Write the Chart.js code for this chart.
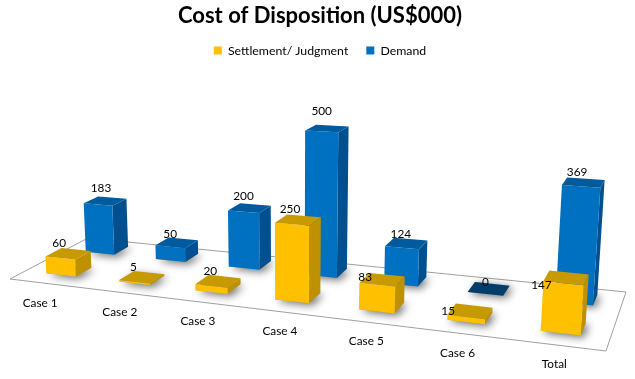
<!DOCTYPE html>
<html>
<head>
<meta charset="utf-8">
<script src="https://cdn.jsdelivr.net/npm/chart.js@4"></script>
<style>
    html, body { margin: 0; padding: 0; background: #fff; }
    canvas { display: block; }
</style>
</head>
<body>
<canvas id="chart-disposition" width="635" height="379"></canvas>
<script>
var categories = ['Case 1', 'Case 2', 'Case 3', 'Case 4', 'Case 5', 'Case 6', 'Total'];
var settlement = [60, 5, 20, 250, 83, 15, 147];
var demand = [183, 50, 200, 500, 124, 0, 369];

// floor of the 3D box: front left, front right, back right, back left
var floorCorners = [[10, 279], [606, 351], [626, 292], [88, 238]];

// solve the unit square -> floor quad once
var floorMap = (function () {
    var p = floorCorners;
    var dx1 = p[1][0] - p[2][0], dx2 = p[3][0] - p[2][0], sx = p[0][0] - p[1][0] + p[2][0] - p[3][0];
    var dy1 = p[1][1] - p[2][1], dy2 = p[3][1] - p[2][1], sy = p[0][1] - p[1][1] + p[2][1] - p[3][1];
    var det = dx1 * dy2 - dx2 * dy1;
    var g = (sx * dy2 - dx2 * sy) / det;
    var h = (dx1 * sy - sx * dy1) / det;
    return {
        a: p[1][0] - p[0][0] + g * p[1][0], b: p[3][0] - p[0][0] + h * p[3][0], c: p[0][0],
        d: p[1][1] - p[0][1] + g * p[1][1], e: p[3][1] - p[0][1] + h * p[3][1], f: p[0][1],
        g: g, h: h
    };
})();

// u along the front edge, v towards the back, height in pixels of the y scale
function project(u, v, height) {
    var m = floorMap;
    var w = m.g * u + m.h * v + 1;
    var x = (m.a * u + m.b * v + m.c) / w;
    var y = (m.d * u + m.e * v + m.f) / w;
    var hPx = height / w;
    // the bars sit a little further right mid chart than the pure perspective gives
    x += 24 * u * (1 - u);
    return { x: x + (x - 290) * hPx / 4800, y: y - hPx };
}

function poly(ctx, pts, fill) {
    ctx.beginPath();
    ctx.moveTo(pts[0].x, pts[0].y);
    for (var i = 1; i < pts.length; i++) {
        ctx.lineTo(pts[i].x, pts[i].y);
    }
    ctx.closePath();
    ctx.fillStyle = fill;
    ctx.fill();
}

var bars3d = {
    id: 'bars3d',
    afterDatasetsDraw: function (chart) {
        var ctx = chart.ctx;
        var area = chart.chartArea;
        var opts = chart.options.plugins.bars3d;

        function bar(datasetIndex) {
            var ds = chart.data.datasets[datasetIndex];
            var meta = chart.getDatasetMeta(datasetIndex);
            return meta.data.map(function (el, i) {
                return {
                    u0: (el.x - el.width / 2 - area.left) / area.width,
                    u1: (el.x + el.width / 2 - area.left) / area.width,
                    v0: ds.depthFrom,
                    v1: ds.depthFrom + opts.barDepth,
                    h: el.base - el.y,
                    value: ds.data[i],
                    ds: ds,
                    i: i
                };
            });
        }

        var back = bar(1), front = bar(0);
        var all = back.concat(front);

        ctx.save();

        // floor
        ctx.beginPath();
        ctx.moveTo(floorCorners[0][0], floorCorners[0][1]);
        for (var c = 1; c < 4; c++) {
            ctx.lineTo(floorCorners[c][0], floorCorners[c][1]);
        }
        ctx.closePath();
        ctx.strokeStyle = '#a0a0a0';
        ctx.lineWidth = 1;
        ctx.stroke();

        // soft shadows on the floor
        all.forEach(function (b) {
            ctx.save();
            ctx.shadowColor = 'rgba(0,0,0,0.6)';
            ctx.shadowBlur = 9;
            ctx.shadowOffsetX = 3;
            ctx.shadowOffsetY = 2;
            poly(ctx, [project(b.u0, b.v0, 0), project(b.u1, b.v0, 0), project(b.u1, b.v1, 0), project(b.u0, b.v1, 0)], '#999');
            ctx.restore();
        });

        all.forEach(function (b) {
            var topColor = b.value === 0 ? b.ds.zeroColor : b.ds.topColor;
            // side face
            poly(ctx, [project(b.u1, b.v0, 0), project(b.u1, b.v1, 0), project(b.u1, b.v1, b.h), project(b.u1, b.v0, b.h)], b.ds.sideColor);
            // front face
            poly(ctx, [project(b.u0, b.v0, 0), project(b.u1, b.v0, 0), project(b.u1, b.v0, b.h), project(b.u0, b.v0, b.h)], b.ds.frontColor);
            // top face
            poly(ctx, [project(b.u0, b.v0, b.h), project(b.u1, b.v0, b.h), project(b.u1, b.v1, b.h), project(b.u0, b.v1, b.h)], topColor);
        });

        // value labels
        ctx.fillStyle = '#000';
        ctx.font = opts.font;
        ctx.textAlign = 'center';
        ctx.textBaseline = 'middle';
        all.forEach(function (b) {
            var p = project((b.u0 + b.u1) / 2, b.v0, b.h);
            var q = project((b.u0 + b.u1) / 2, b.v1, b.h);
            var nudge = b.ds.labelNudge[b.i];
            ctx.fillText(String(b.value), p.x + nudge[0], q.y - 9 + nudge[1]);
        });

        // category labels along the front edge
        chart.data.labels.forEach(function (label, i) {
            var x = chart.scales.x.getPixelForValue(i);
            var p = project((x - area.left) / area.width, 0, 0);
            ctx.fillText(label, p.x + (i === 0 ? -6 : -1), p.y + 20);
        });

        ctx.restore();
    }
};

var ctx_disposition = document.getElementById('chart-disposition');

var chartDisposition = new Chart(ctx_disposition, {
    type: 'bar',
    data: {
        labels: categories,
        datasets: [
            {
                label: 'Settlement/ Judgment',
                data: settlement,
                backgroundColor: 'rgba(0,0,0,0)',
                frontColor: '#ffc000',
                topColor: '#c79a00',
                sideColor: '#bf9000',
                zeroColor: '#7f6000',
                depthFrom: 0.18,
                labelNudge: [[-1, 3], [-1, 4], [-1, 4], [-2, 2], [-12, 11], [-18, 15], [-22, 22]]
            },
            {
                label: 'Demand',
                data: demand,
                backgroundColor: 'rgba(0,0,0,0)',
                frontColor: '#0070c0',
                topColor: '#005a9e',
                sideColor: '#00508f',
                zeroColor: '#003d6b',
                depthFrom: 0.69,
                labelNudge: [[3, 0], [0, 4], [0, 1], [0, -5], [-1, 4], [0, 7], [-4, 2]]
            }
        ]
    },
    options: {
        responsive: false,
        animation: false,
        layout: { padding: { left: 5 } },
        datasets: {
            bar: { grouped: false, barPercentage: 1, categoryPercentage: 0.41 }
        },
        scales: {
            x: { display: false },
            y: { display: false, min: 0, max: 1100 }
        },
        plugins: {
            title: {
                display: true,
                text: 'Cost of Disposition (US$000)',
                color: '#000',
                font: { family: 'Lato', size: 22, weight: 'bold' },
                padding: { top: 3, bottom: -3 }
            },
            legend: {
                display: true,
                position: 'top',
                labels: {
                    color: '#000',
                    font: { family: 'Lato', size: 12.3 },
                    boxWidth: 8,
                    boxHeight: 8,
                    padding: 18,
                    generateLabels: function (chart) {
                        return chart.data.datasets.map(function (ds, i) {
                            return {
                                text: ds.label,
                                fillStyle: ds.frontColor,
                                strokeStyle: ds.frontColor,
                                lineWidth: 0,
                                fontColor: '#000',
                                datasetIndex: i
                            };
                        });
                    }
                }
            },
            tooltip: { enabled: false },
            bars3d: { barDepth: 0.2, font: '11.8px Lato' }
        }
    },
    plugins: [bars3d]
});
</script>
</body>
</html>
